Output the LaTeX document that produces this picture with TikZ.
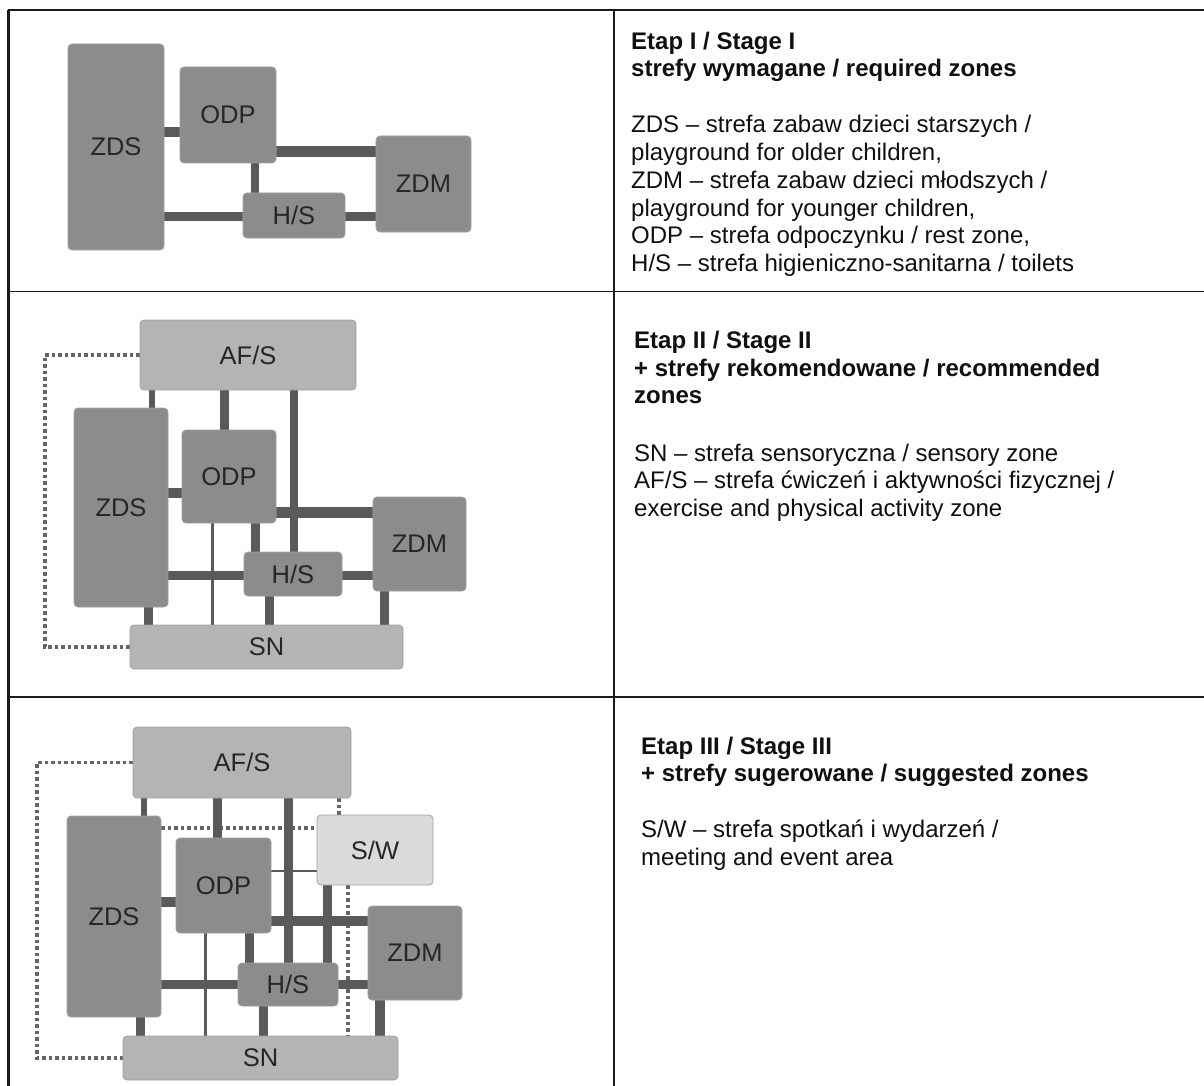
\documentclass[tikz,border=0pt]{standalone}
\usepackage{fontspec}
\setmainfont{Liberation Sans}
\pgfdeclarelayer{background}
\pgfdeclarelayer{paper}
\pgfsetlayers{paper,background,main}
\definecolor{zonedark}{HTML}{8C8C8C}
\definecolor{zonelight}{HTML}{B4B4B4}
\definecolor{zonesw}{HTML}{DADADA}
\definecolor{zoneedge}{HTML}{A0A0A0}
\definecolor{conn}{HTML}{5A5A5A}
\definecolor{dotc}{HTML}{646464}
\definecolor{labelc}{HTML}{262626}
\definecolor{rulec}{HTML}{1A1A1A}
\definecolor{txtc}{HTML}{101010}
\begin{document}
\begin{tikzpicture}[x=1pt,y=-1pt,
  zone/.style={draw=zoneedge, line width=0.8pt, rounded corners=4pt, fill=zonedark,
    text=labelc, font=\fontsize{25.5}{28}\selectfont, inner sep=0pt},
  zonelt/.style={zone, fill=zonelight},
  zonesw/.style={zone, fill=zonesw},
  bar/.style={draw=conn, line width=#1},
  bar/.default=10pt,
  dots/.style={draw=dotc, line width=3.5pt, dash pattern=on 3.5pt off 3pt},
  rule/.style={draw=rulec, line width=#1},
  rule/.default=2pt,
  ttl/.style={anchor=base west, inner sep=0pt, text=txtc, font=\fontsize{24}{28}\selectfont\bfseries},
  body/.style={anchor=base west, inner sep=0pt, text=txtc, font=\fontsize{24}{28}\selectfont}
]
\useasboundingbox (0,0) rectangle (1204,1086);
\begin{pgfonlayer}{paper}
\fill[white] (0,0) rectangle (1204,1086);
% table rules
\draw[rule=2.2pt] (8,10) -- (1204,10);
\draw[rule=2.2pt] (8.5,10) -- (8.5,1086);
\draw[rule=2pt] (614,10) -- (614,1086);
\draw[rule=1.6pt] (8,291.5) -- (1204,291.5);
\draw[rule=1.6pt] (8,697) -- (1204,697);
\end{pgfonlayer}

% ---------- Panel 1 ----------
\node[zone, minimum width=96pt, minimum height=206pt] (zds1) at (116,147) {ZDS};
\node[zone, minimum width=96pt, minimum height=96pt] (odp1) at (228,115) {ODP};
\node[zone, minimum width=95pt, minimum height=96pt] (zdm1) at (423.5,184) {ZDM};
\node[zone, minimum width=102pt, minimum height=45pt] (hs1) at (294,215.5) {H/S};
\begin{pgfonlayer}{background}
\draw[bar=10.5pt] (zds1.east |- 0,132) -- (odp1.west |- 0,132);
\draw[bar=11.5pt] (odp1.east |- 0,151.5) -- (zdm1.west |- 0,151.5);
\draw[bar=8.5pt] (255,0 |- odp1.south) -- (255,0 |- hs1.north);
\draw[bar=9.5pt] (zds1.east |- 0,216.5) -- (hs1.west |- 0,216.5);
\draw[bar=9.5pt] (hs1.east |- 0,216.5) -- (zdm1.west |- 0,216.5);
\end{pgfonlayer}

% ---------- Panel 2 ----------
\node[zonelt, minimum width=216pt, minimum height=70pt] (afs2) at (248,355) {AF/S};
\node[zone, minimum width=94pt, minimum height=199pt] (zds2) at (121,507.5) {ZDS};
\node[zone, minimum width=94pt, minimum height=93pt] (odp2) at (229,476.5) {ODP};
\node[zone, minimum width=93pt, minimum height=94pt] (zdm2) at (419.5,544) {ZDM};
\node[zone, minimum width=98pt, minimum height=44pt] (hs2) at (293,574) {H/S};
\node[zonelt, minimum width=273pt, minimum height=44pt] (sn2) at (266.5,647) {SN};
\coordinate (c2) at (45,647);
\begin{pgfonlayer}{background}
\draw[dots] (afs2.west) -| (c2) -- (sn2.west);
\draw[bar=5.5pt] (152,0 |- afs2.south) -- (152,0 |- zds2.north);
\draw[bar=9.5pt] (224.5,0 |- afs2.south) -- (224.5,0 |- odp2.north);
\draw[bar=8.5pt] (294,0 |- afs2.south) -- (294,0 |- hs2.north);
\draw[bar=10.5pt] (zds2.east |- 0,493) -- (odp2.west |- 0,493);
\draw[bar=11.5pt] (odp2.east |- 0,512.5) -- (zdm2.west |- 0,512.5);
\draw[bar=9.5pt] (255.5,0 |- odp2.south) -- (255.5,0 |- hs2.north);
\draw[bar=3pt] (212.5,0 |- odp2.south) -- (212.5,0 |- sn2.north);
\draw[bar=9pt] (zds2.east |- 0,575) -- (hs2.west |- 0,575);
\draw[bar=9pt] (hs2.east |- 0,575) -- (zdm2.west |- 0,575);
\draw[bar=9.5pt] (148.5,0 |- zds2.south) -- (148.5,0 |- sn2.north);
\draw[bar=9.5pt] (269.5,0 |- hs2.south) -- (269.5,0 |- sn2.north);
\draw[bar=9.5pt] (384.5,0 |- zdm2.south) -- (384.5,0 |- sn2.north);
\end{pgfonlayer}

% ---------- Panel 3 ----------
\node[zonelt, minimum width=218pt, minimum height=71pt] (afs3) at (242,762.5) {AF/S};
\node[zone, minimum width=94pt, minimum height=201pt] (zds3) at (114,916.5) {ZDS};
\node[zone, minimum width=95pt, minimum height=95pt] (odp3) at (223.5,885.5) {ODP};
\node[zonesw, minimum width=116pt, minimum height=70pt] (sw3) at (375,850) {S/W};
\node[zone, minimum width=94pt, minimum height=94pt] (zdm3) at (415,953) {ZDM};
\node[zone, minimum width=100pt, minimum height=43pt] (hs3) at (288,984.5) {H/S};
\node[zonelt, minimum width=275pt, minimum height=44pt] (sn3) at (260.5,1058) {SN};
\coordinate (c3) at (37,1058);
\begin{pgfonlayer}{background}
\draw[dots] (afs3.west) -| (c3) -- (sn3.west);
\draw[dots] (339,0 |- afs3.south) -- (339,0 |- sw3.north);
\draw[dots] (zds3.east |- 0,828) -- (sw3.west |- 0,828);
\draw[dots] (348,0 |- sw3.south) -- (348,0 |- sn3.north);
\draw[bar=6pt] (144,0 |- afs3.south) -- (144,0 |- zds3.north);
\draw[bar=9.5pt] (217.5,0 |- afs3.south) -- (217.5,0 |- odp3.north);
\draw[bar=9.5pt] (288.5,0 |- afs3.south) -- (288.5,0 |- hs3.north);
\draw[bar=10.5pt] (zds3.east |- 0,902) -- (odp3.west |- 0,902);
\draw[bar=2pt] (odp3.east |- 0,871) -- (sw3.west |- 0,871);
\draw[bar=10.5pt] (odp3.east |- 0,921) -- (zdm3.west |- 0,921);
\draw[bar=9.5pt] (327.5,0 |- sw3.south) -- (327.5,0 |- hs3.north);
\draw[bar=9.5pt] (249.5,0 |- odp3.south) -- (249.5,0 |- hs3.north);
\draw[bar=3pt] (205.5,0 |- odp3.south) -- (205.5,0 |- sn3.north);
\draw[bar=9pt] (zds3.east |- 0,984) -- (hs3.west |- 0,984);
\draw[bar=9pt] (hs3.east |- 0,984) -- (zdm3.west |- 0,984);
\draw[bar=9.5pt] (140.5,0 |- zds3.south) -- (140.5,0 |- sn3.north);
\draw[bar=9.5pt] (263.5,0 |- hs3.south) -- (263.5,0 |- sn3.north);
\draw[bar=9.5pt] (380,0 |- zdm3.south) -- (380,0 |- sn3.north);
\end{pgfonlayer}

% ---------- Text column ----------
\node[ttl] (t1a) at (631,50) {Etap I / Stage I};
\node[ttl] (t1b) at (631,76.7) {strefy wymagane / required zones};
\node[body] (t1c) at (631,132.7) {ZDS – strefa zabaw dzieci starszych /};
\node[body] (t1d) at (631,160.5) {playground for older children,};
\node[body] (t1e) at (631,188.3) {ZDM – strefa zabaw dzieci młodszych /};
\node[body] (t1f) at (631,216) {playground for younger children,};
\node[body] (t1g) at (631,243.8) {ODP – strefa odpoczynku / rest zone,};
\node[body] (t1h) at (631,271.5) {H/S – strefa higieniczno-sanitarna / toilets};

\node[ttl] (t2a) at (634,348.5) {Etap II / Stage II};
\node[ttl] (t2b) at (634,376) {+ strefy rekomendowane / recommended};
\node[ttl] (t2c) at (634,403.5) {zones};
\node[body] (t2d) at (634,461) {SN – strefa sensoryczna / sensory zone};
\node[body] (t2e) at (634,488.5) {AF/S – strefa ćwiczeń i aktywności fizycznej /};
\node[body] (t2f) at (634,516) {exercise and physical activity zone};

\node[ttl] (t3a) at (641,754.5) {Etap III / Stage III};
\node[ttl] (t3b) at (641,781.5) {+ strefy sugerowane / suggested zones};
\node[body] (t3c) at (641,837.5) {S/W – strefa spotkań i wydarzeń /};
\node[body] (t3d) at (641,865) {meeting and event area};
\end{tikzpicture}
\end{document}
